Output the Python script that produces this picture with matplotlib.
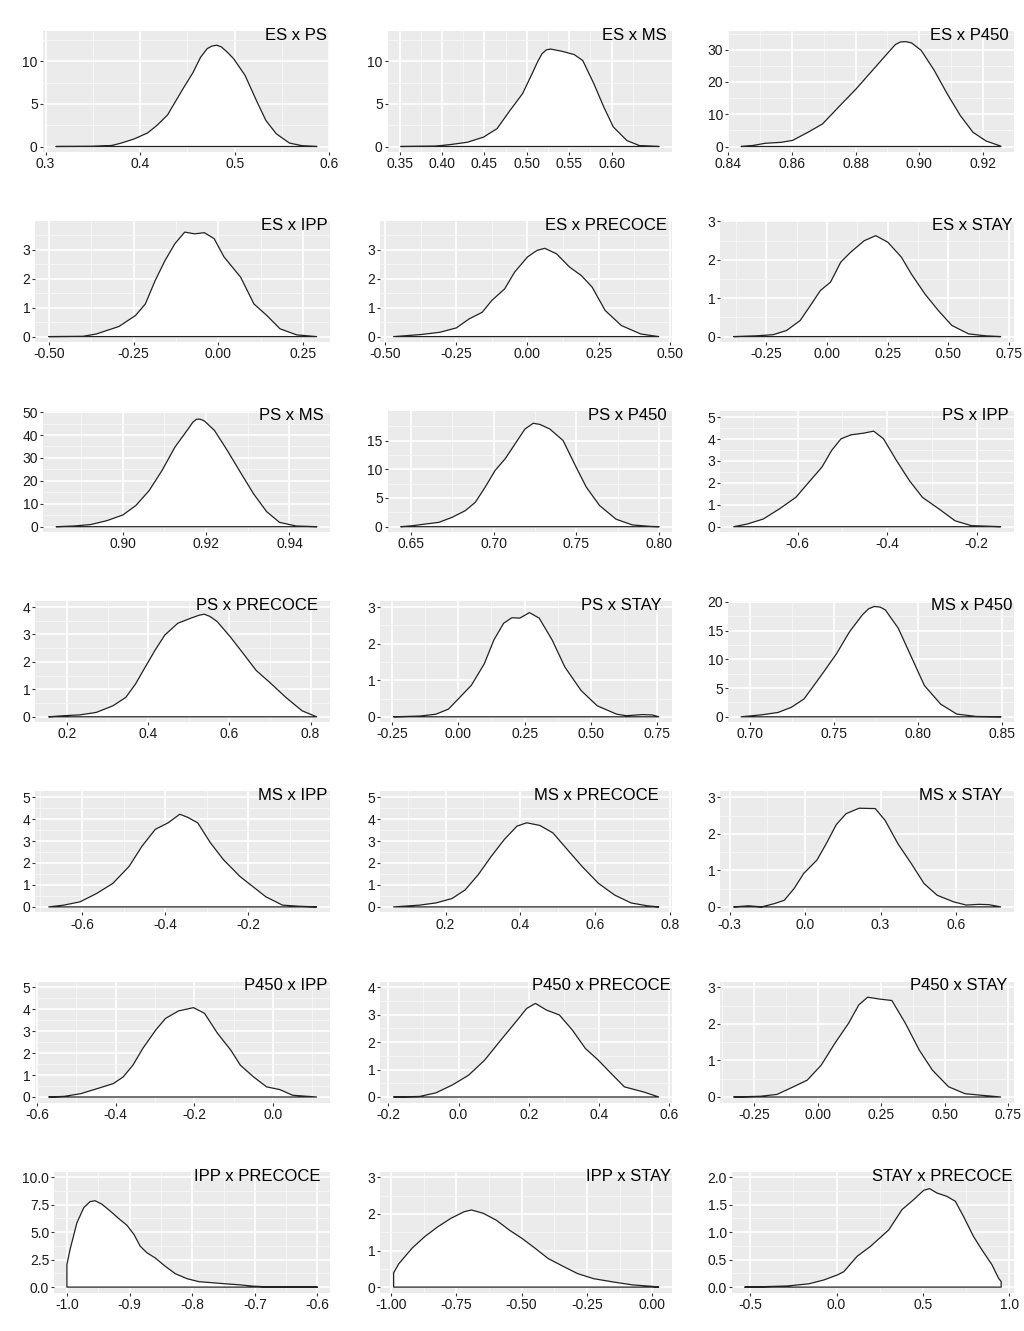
import matplotlib
matplotlib.use("Agg")
import matplotlib.pyplot as plt

plt.rcParams['font.family'] = ['Liberation Sans', 'DejaVu Sans']

# posterior densities of the genetic correlations
es_ps_x = [0.311, 0.350, 0.370, 0.380, 0.394, 0.408, 0.418, 0.429, 0.438, 0.446, 0.456, 0.464, 0.471, 0.476, 0.481, 0.486, 0.492, 0.499, 0.511, 0.523, 0.533, 0.544, 0.558, 0.572, 0.587]
es_ps_y = [0, 0.02, 0.12, 0.4, 0.9, 1.6, 2.5, 3.7, 5.4, 6.9, 8.7, 10.5, 11.5, 11.8, 11.9, 11.7, 11.1, 10.3, 8.35, 5.4, 3.06, 1.49, 0.4, 0.08, 0]

es_ms_x = [0.3515, 0.392, 0.411, 0.430, 0.449, 0.465, 0.480, 0.495, 0.507, 0.513, 0.518, 0.523, 0.528, 0.541, 0.556, 0.566, 0.579, 0.591, 0.602, 0.618, 0.633, 0.656]
es_ms_y = [0, 0.04, 0.24, 0.5, 1.1, 2.1, 4.2, 6.2, 8.7, 10.0, 10.9, 11.35, 11.45, 11.2, 10.8, 10.1, 7.4, 4.6, 2.3, 0.7, 0.1, 0]

es_p450_x = [0.844, 0.8476, 0.8516, 0.8567, 0.8602, 0.865, 0.8696, 0.8751, 0.8802, 0.8853, 0.8904, 0.8925, 0.8941, 0.8958, 0.8976, 0.9006, 0.9047, 0.9088, 0.9129, 0.9169, 0.921, 0.9251, 0.9257]
es_p450_y = [0, 0.3, 1.0, 1.3, 1.9, 4.4, 7.0, 12.7, 17.9, 23.6, 29.3, 31.6, 32.4, 32.5, 32.1, 29.8, 23.6, 16.3, 9.6, 4.4, 1.7, 0.3, 0]

es_ipp_x = [-0.50, -0.399, -0.360, -0.293, -0.244, -0.215, -0.186, -0.157, -0.128, -0.099, -0.070, -0.041, -0.012, 0.017, 0.066, 0.105, 0.143, 0.182, 0.231, 0.29]
es_ipp_y = [0, 0.01, 0.09, 0.35, 0.73, 1.13, 1.94, 2.63, 3.21, 3.61, 3.55, 3.59, 3.38, 2.75, 2.05, 1.13, 0.73, 0.27, 0.06, 0]

es_prec_x = [-0.470, -0.375, -0.307, -0.25, -0.205, -0.159, -0.125, -0.080, -0.045, 0.0, 0.034, 0.061, 0.102, 0.148, 0.189, 0.227, 0.273, 0.330, 0.398, 0.461]
es_prec_y = [0, 0.07, 0.15, 0.30, 0.61, 0.84, 1.25, 1.65, 2.23, 2.75, 2.98, 3.05, 2.86, 2.40, 2.11, 1.71, 0.90, 0.38, 0.09, 0]

es_stay_x = [-0.385, -0.292, -0.222, -0.167, -0.111, -0.069, -0.028, 0.014, 0.056, 0.097, 0.153, 0.2, 0.25, 0.306, 0.347, 0.403, 0.458, 0.514, 0.583, 0.653, 0.715]
es_stay_y = [0, 0.02, 0.05, 0.16, 0.42, 0.81, 1.20, 1.42, 1.94, 2.20, 2.50, 2.63, 2.46, 2.07, 1.63, 1.11, 0.68, 0.29, 0.07, 0.02, 0]

ps_ms_x = [0.884, 0.8882, 0.8922, 0.8961, 0.90, 0.9031, 0.9063, 0.9094, 0.9125, 0.9157, 0.9168, 0.9177, 0.9186, 0.9196, 0.922, 0.9251, 0.9282, 0.9314, 0.9345, 0.9376, 0.9416, 0.9466]
ps_ms_y = [0, 0.3, 0.9, 2.6, 5.1, 9.2, 15.7, 24.5, 34.7, 42.7, 45.6, 46.9, 46.9, 46.1, 42.0, 33.2, 23.8, 14.3, 6.6, 1.9, 0.3, 0]

ps_p450_x = [0.644, 0.651, 0.659, 0.667, 0.675, 0.683, 0.689, 0.695, 0.701, 0.707, 0.713, 0.719, 0.724, 0.728, 0.734, 0.742, 0.750, 0.756, 0.764, 0.774, 0.784, 0.795, 0.80]
ps_p450_y = [0, 0.17, 0.47, 0.76, 1.63, 2.8, 4.24, 6.9, 9.8, 11.8, 14.4, 17.0, 18.0, 17.8, 17.0, 15.0, 10.3, 6.9, 3.7, 1.3, 0.3, 0.05, 0]

ps_ipp_x = [-0.743, -0.713, -0.677, -0.641, -0.604, -0.575, -0.546, -0.524, -0.503, -0.481, -0.452, -0.430, -0.408, -0.379, -0.350, -0.321, -0.284, -0.248, -0.212, -0.146]
ps_ipp_y = [0, 0.12, 0.35, 0.81, 1.34, 2.03, 2.71, 3.48, 4.01, 4.19, 4.27, 4.36, 4.01, 3.02, 2.10, 1.34, 0.81, 0.27, 0.05, 0]

ps_prec_x = [0.155, 0.192, 0.232, 0.272, 0.313, 0.345, 0.369, 0.393, 0.417, 0.441, 0.473, 0.506, 0.525, 0.538, 0.552, 0.570, 0.602, 0.634, 0.666, 0.699, 0.739, 0.779, 0.815]
ps_prec_y = [0, 0.04, 0.07, 0.16, 0.40, 0.71, 1.20, 1.82, 2.43, 2.98, 3.41, 3.60, 3.70, 3.74, 3.66, 3.47, 2.92, 2.31, 1.69, 1.26, 0.71, 0.22, 0]

ps_stay_x = [-0.244, -0.146, -0.085, -0.037, 0.0, 0.049, 0.098, 0.134, 0.171, 0.202, 0.232, 0.268, 0.305, 0.354, 0.402, 0.463, 0.524, 0.598, 0.634, 0.695, 0.732, 0.756]
ps_stay_y = [0, 0.02, 0.07, 0.21, 0.49, 0.86, 1.45, 2.10, 2.56, 2.71, 2.70, 2.85, 2.70, 2.10, 1.36, 0.72, 0.30, 0.07, 0.03, 0.06, 0.05, 0]

ms_p450_x = [0.6946, 0.707, 0.7166, 0.7244, 0.732, 0.7379, 0.7437, 0.7514, 0.7591, 0.7669, 0.7705, 0.7738, 0.7772, 0.7804, 0.7881, 0.7959, 0.8036, 0.8133, 0.8229, 0.8345, 0.8492]
ms_p450_y = [0, 0.35, 0.76, 1.64, 3.1, 5.45, 7.8, 11.0, 14.8, 17.8, 18.8, 19.2, 19.1, 18.6, 15.4, 10.4, 5.45, 2.2, 0.47, 0.06, 0]

ms_ipp_x = [-0.680, -0.644, -0.605, -0.565, -0.526, -0.487, -0.456, -0.424, -0.393, -0.365, -0.346, -0.322, -0.291, -0.260, -0.220, -0.189, -0.158, -0.118, -0.079, -0.036]
ms_ipp_y = [0, 0.08, 0.23, 0.61, 1.07, 1.84, 2.76, 3.53, 3.83, 4.22, 4.08, 3.83, 2.91, 2.15, 1.38, 0.92, 0.46, 0.08, 0.03, 0]

ms_prec_x = [0.061, 0.130, 0.174, 0.217, 0.252, 0.287, 0.322, 0.357, 0.391, 0.417, 0.452, 0.487, 0.522, 0.565, 0.609, 0.652, 0.696, 0.739, 0.770]
ms_prec_y = [0, 0.08, 0.18, 0.38, 0.77, 1.46, 2.30, 3.07, 3.68, 3.83, 3.71, 3.37, 2.68, 1.84, 1.07, 0.54, 0.18, 0.05, 0]

ms_stay_x = [-0.284, -0.225, -0.173, -0.122, -0.083, -0.044, -0.005, 0.047, 0.085, 0.124, 0.163, 0.215, 0.279, 0.318, 0.370, 0.422, 0.473, 0.525, 0.590, 0.641, 0.693, 0.732, 0.778]
ms_stay_y = [0, 0.03, 0.0, 0.09, 0.18, 0.50, 0.92, 1.28, 1.74, 2.25, 2.55, 2.70, 2.69, 2.37, 1.72, 1.19, 0.64, 0.32, 0.14, 0.05, 0.07, 0.06, 0]

p450_ipp_x = [-0.570, -0.530, -0.489, -0.447, -0.406, -0.381, -0.356, -0.331, -0.298, -0.273, -0.240, -0.202, -0.174, -0.141, -0.107, -0.083, -0.049, -0.016, 0.017, 0.050, 0.111]
p450_ipp_y = [0, 0.03, 0.15, 0.38, 0.61, 0.91, 1.45, 2.21, 3.05, 3.58, 3.92, 4.07, 3.81, 2.90, 2.13, 1.45, 0.91, 0.46, 0.34, 0.08, 0]

p450_prec_x = [-0.185, -0.111, -0.065, -0.019, 0.028, 0.074, 0.120, 0.167, 0.194, 0.219, 0.250, 0.287, 0.324, 0.361, 0.398, 0.435, 0.472, 0.528, 0.570]
p450_prec_y = [0, 0.02, 0.15, 0.43, 0.79, 1.34, 2.07, 2.80, 3.23, 3.41, 3.17, 2.99, 2.44, 1.77, 1.34, 0.85, 0.37, 0.18, 0]

p450_stay_x = [-0.330, -0.225, -0.160, -0.095, -0.041, 0.014, 0.068, 0.122, 0.162, 0.197, 0.243, 0.292, 0.345, 0.400, 0.452, 0.515, 0.580, 0.640, 0.72]
p450_stay_y = [0, 0.02, 0.07, 0.28, 0.46, 0.87, 1.47, 2.02, 2.52, 2.73, 2.68, 2.64, 2.02, 1.28, 0.73, 0.28, 0.09, 0.05, 0]

ipp_prec_x = [-1.000, -1.000, -0.995, -0.984, -0.973, -0.963, -0.955, -0.944, -0.931, -0.917, -0.904, -0.893, -0.883, -0.872, -0.859, -0.843, -0.827, -0.808, -0.789, -0.768, -0.747, -0.725, -0.704, -0.683, -0.656, -0.629, -0.600]
ipp_prec_y = [0, 2.04, 3.41, 5.85, 7.23, 7.77, 7.85, 7.53, 6.92, 6.22, 5.61, 4.79, 3.72, 3.11, 2.65, 1.89, 1.22, 0.76, 0.49, 0.40, 0.30, 0.21, 0.09, 0.03, 0.04, 0.01, 0]

ipp_stay_x = [-0.99, -0.99, -0.970, -0.920, -0.871, -0.821, -0.771, -0.721, -0.692, -0.647, -0.597, -0.547, -0.498, -0.448, -0.398, -0.336, -0.286, -0.224, -0.149, -0.075, 0.0, 0.025]
ipp_stay_y = [0, 0.39, 0.64, 1.06, 1.38, 1.65, 1.88, 2.06, 2.11, 2.02, 1.83, 1.56, 1.33, 1.06, 0.78, 0.55, 0.37, 0.23, 0.14, 0.06, 0.02, 0]

stay_prec_x = [-0.531, -0.400, -0.285, -0.160, -0.073, 0.004, 0.042, 0.119, 0.196, 0.302, 0.379, 0.446, 0.504, 0.538, 0.581, 0.638, 0.687, 0.735, 0.792, 0.840, 0.898, 0.937, 0.952, 0.952]
stay_prec_y = [0, 0.01, 0.02, 0.06, 0.13, 0.22, 0.28, 0.56, 0.74, 1.04, 1.41, 1.59, 1.76, 1.79, 1.71, 1.65, 1.56, 1.28, 0.92, 0.68, 0.41, 0.16, 0.10, 0]

titles = ["ES x PS", "ES x MS", "ES x P450",
          "ES x IPP", "ES x PRECOCE", "ES x STAY",
          "PS x MS", "PS x P450", "PS x IPP",
          "PS x PRECOCE", "PS x STAY", "MS x P450",
          "MS x IPP", "MS x PRECOCE", "MS x STAY",
          "P450 x IPP", "P450 x PRECOCE", "P450 x STAY",
          "IPP x PRECOCE", "IPP x STAY", "STAY x PRECOCE"]
curves = [(es_ps_x, es_ps_y), (es_ms_x, es_ms_y), (es_p450_x, es_p450_y),
          (es_ipp_x, es_ipp_y), (es_prec_x, es_prec_y), (es_stay_x, es_stay_y),
          (ps_ms_x, ps_ms_y), (ps_p450_x, ps_p450_y), (ps_ipp_x, ps_ipp_y),
          (ps_prec_x, ps_prec_y), (ps_stay_x, ps_stay_y), (ms_p450_x, ms_p450_y),
          (ms_ipp_x, ms_ipp_y), (ms_prec_x, ms_prec_y), (ms_stay_x, ms_stay_y),
          (p450_ipp_x, p450_ipp_y), (p450_prec_x, p450_prec_y), (p450_stay_x, p450_stay_y),
          (ipp_prec_x, ipp_prec_y), (ipp_stay_x, ipp_stay_y), (stay_prec_x, stay_prec_y)]

xtick_labels = [
    ["0.3", "0.4", "0.5", "0.6"], ["0.35", "0.40", "0.45", "0.50", "0.55", "0.60"], ["0.84", "0.86", "0.88", "0.90", "0.92"],
    ["-0.50", "-0.25", "0.00", "0.25"], ["-0.50", "-0.25", "0.00", "0.25", "0.50"], ["-0.25", "0.00", "0.25", "0.50", "0.75"],
    ["0.90", "0.92", "0.94"], ["0.65", "0.70", "0.75", "0.80"], ["-0.6", "-0.4", "-0.2"],
    ["0.2", "0.4", "0.6", "0.8"], ["-0.25", "0.00", "0.25", "0.50", "0.75"], ["0.70", "0.75", "0.80", "0.85"],
    ["-0.6", "-0.4", "-0.2"], ["0.2", "0.4", "0.6", "0.8"], ["-0.3", "0.0", "0.3", "0.6"],
    ["-0.6", "-0.4", "-0.2", "0.0"], ["-0.2", "0.0", "0.2", "0.4", "0.6"], ["-0.25", "0.00", "0.25", "0.50", "0.75"],
    ["-1.0", "-0.9", "-0.8", "-0.7", "-0.6"], ["-1.00", "-0.75", "-0.50", "-0.25", "0.00"], ["-0.5", "0.0", "0.5", "1.0"]]
ytick_labels = [
    ["0", "5", "10"], ["0", "5", "10"], ["0", "10", "20", "30"],
    ["0", "1", "2", "3"], ["0", "1", "2", "3"], ["0", "1", "2", "3"],
    ["0", "10", "20", "30", "40", "50"], ["0", "5", "10", "15"], ["0", "1", "2", "3", "4", "5"],
    ["0", "1", "2", "3", "4"], ["0", "1", "2", "3"], ["0", "5", "10", "15", "20"],
    ["0", "1", "2", "3", "4", "5"], ["0", "1", "2", "3", "4", "5"], ["0", "1", "2", "3"],
    ["0", "1", "2", "3", "4", "5"], ["0", "1", "2", "3", "4"], ["0", "1", "2", "3"],
    ["0.0", "2.5", "5.0", "7.5", "10.0"], ["0", "1", "2", "3"], ["0.0", "0.5", "1.0", "1.5", "2.0"]]
ytops = [13.57, 13.57, 35.8,
         3.99, 3.99, 3.01,
         50.4, 20.1, 5.27,
         4.21, 3.16, 20.1,
         5.26, 5.26, 3.16,
         5.26, 4.21, 3.16,
         10.5, 3.16, 2.1]

# gap (px) between the title's right end and the panel edge
title_pad = [3, 5, 5, 2, 5, 1, 6, 5, 5, 12, 10, 2, 3, 13, 12, 3, 1, 7, 9, 1, 2]

W, H = 1024, 1331
fig = plt.figure(figsize=(W / 100, H / 100), dpi=100)
cell_left = [0, 341, 683]
label_margin = [24, 28, 26]
panel_right = [330, 672, 1014]
row_top, row_step, panel_h = 31, 190.1, 121


def minor_of(ticks, lo, hi):
    step = ticks[1] - ticks[0]
    pts = [ticks[0] - step / 2] + [t + step / 2 for t in ticks]
    return [p for p in pts if lo <= p <= hi]


axes = []
for i, (x, y) in enumerate(curves):
    ax = fig.add_axes([0, 0, 0.1, 0.1])
    ax.set_facecolor('#EBEBEB')
    for s in ax.spines.values():
        s.set_visible(False)

    xmin, xmax = min(x), max(x)
    d = 0.05 * (xmax - xmin)
    xlim = (xmin - d, xmax + d)
    top = ytops[i]
    ylim = (-top / 1.05 * 0.05, top)

    xt = [float(s) for s in xtick_labels[i]]
    yt = [float(s) for s in ytick_labels[i]]
    ax.set_xticks(xt, xtick_labels[i])
    ax.set_yticks(yt, ytick_labels[i])
    ax.set_xticks(minor_of(xt, *xlim), minor=True)
    ax.set_yticks(minor_of(yt, *ylim), minor=True)
    ax.set_xlim(*xlim)
    ax.set_ylim(*ylim)

    ax.grid(which='major', color='white', lw=1.2)
    ax.grid(which='minor', color='#F7F7F7', lw=0.6)
    ax.set_axisbelow(True)
    ax.tick_params(which='major', length=2.5, width=0.8, color='#333333',
                   labelsize=10, labelcolor='#1a1a1a', pad=1.2)
    ax.tick_params(which='minor', length=0)

    px = list(x) + [x[-1], x[0]]
    py = list(y) + [0, 0]
    ax.fill(px, py, facecolor='white', edgecolor='#222222', lw=0.9,
            joinstyle='round', zorder=3)

    ax.annotate(titles[i], xy=(1, 1), xycoords='axes fraction',
                xytext=(-title_pad[i] * 0.72, 2.2), textcoords='offset points',
                ha='right', va='top', fontsize=12, color='black', zorder=5)
    axes.append(ax)

fig.canvas.draw()
renderer = fig.canvas.get_renderer()
for i, ax in enumerate(axes):
    r, c = divmod(i, 3)
    w = max(t.get_window_extent(renderer).width
            for t in ax.get_yticklabels() if t.get_text())
    left = cell_left[c] + label_margin[c] + w + 3.5
    top_px = row_top + r * row_step
    ax.set_position([left / W, 1 - (top_px + panel_h) / H,
                     (panel_right[c] - left) / W, panel_h / H])

fig.savefig("out.png", dpi=100, facecolor='white')
